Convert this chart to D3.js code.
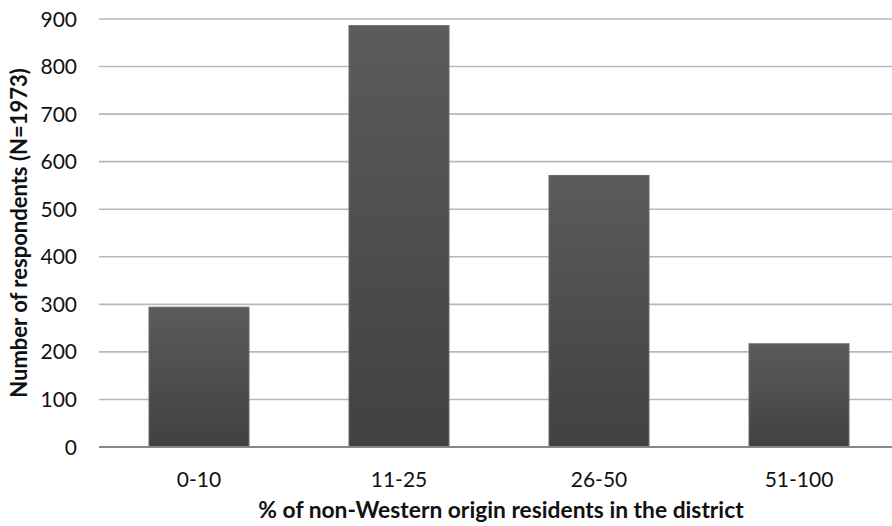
<!DOCTYPE html>
<html><head><meta charset="utf-8">
<script src="https://cdn.jsdelivr.net/npm/d3@7"></script>
<style>body{margin:0;background:#fff}svg{display:block}</style>
</head><body><svg id="c" width="892" height="526"></svg>
<script>
const categories = ["0-10", "11-25", "26-50", "51-100"];
const values = [294, 886, 571, 217];
const yTicks = [0, 100, 200, 300, 400, 500, 600, 700, 800, 900];
const xTitle = "% of non-Western origin residents in the district";
const yTitle = "Number of respondents (N=1973)";

const svg = d3.select("#c");
const font = "Lato, 'Open Sans', sans-serif";
const x = d3.scaleBand().domain(categories).range([99, 899]).paddingInner(0.5).paddingOuter(0.25);
const y = d3.scaleLinear().domain([0, 900]).range([447, 19]);

const defs = svg.append("defs");
const g = defs.append("linearGradient").attr("id", "bg").attr("x1", 0).attr("y1", 0).attr("x2", 0).attr("y2", 1);
g.append("stop").attr("offset", "0%").attr("stop-color", "#5b5b5b");
g.append("stop").attr("offset", "100%").attr("stop-color", "#414141");

// gridlines
svg.append("g").selectAll("line").data(yTicks.filter(d => d > 0)).join("line")
  .attr("x1", 99).attr("x2", 892).attr("y1", d => y(d)).attr("y2", d => y(d))
  .attr("stroke", "#b8b8b8").attr("stroke-width", 1.6);

// bars
svg.append("g").selectAll("rect").data(values).join("rect")
  .attr("x", (d, i) => x(categories[i])).attr("width", x.bandwidth())
  .attr("y", d => y(d)).attr("height", d => y(0) - y(d))
  .attr("fill", "url(#bg)").attr("stroke", "#6a6a6a").attr("stroke-width", 1);

// baseline
svg.append("line").attr("x1", 99).attr("x2", 892).attr("y1", y(0)).attr("y2", y(0))
  .attr("stroke", "#888").attr("stroke-width", 1.8);

// y tick labels
svg.append("g").selectAll("text").data(yTicks).join("text")
  .attr("x", 77).attr("y", d => y(d)).attr("dy", "0.36em").attr("text-anchor", "end")
  .attr("font-family", font).attr("font-size", 21).attr("fill", "#111").text(d => d);

// x tick labels
svg.append("g").selectAll("text").data(categories).join("text")
  .attr("x", d => x(d) + x.bandwidth() / 2).attr("y", 487).attr("text-anchor", "middle")
  .attr("font-family", font).attr("font-size", 21).attr("fill", "#111").text(d => d);

svg.append("text").attr("x", 501).attr("y", 518).attr("text-anchor", "middle")
  .attr("font-family", font).attr("font-size", 22.8).attr("font-weight", "bold").attr("fill", "#111").text(xTitle);

svg.append("text").attr("transform", "translate(19,233) rotate(-90)").attr("dy", "0.36em").attr("text-anchor", "middle")
  .attr("font-family", font).attr("font-size", 22).attr("font-weight", "bold").attr("fill", "#111").text(yTitle);
</script></body></html>
